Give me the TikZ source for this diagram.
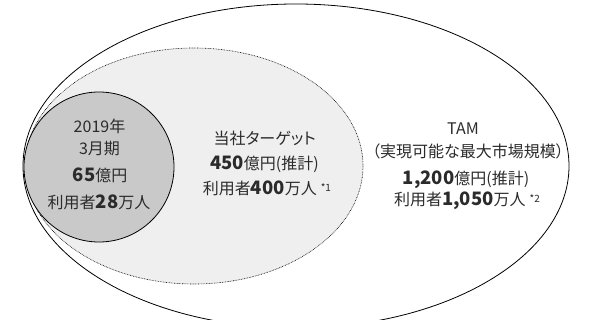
\documentclass[tikz,border=0pt]{standalone}
\usepackage{fontspec}
\setmainfont[RawFeature=+palt]{Noto Sans CJK JP}
\definecolor{inkgray}{HTML}{2B2B2B}
\definecolor{corefill}{HTML}{C9C9C9}
\definecolor{targetfill}{HTML}{EFEFEF}
\newcommand{\bignum}[1]{{\fontsize{18.5}{18.5}\selectfont\bfseries #1}}
\newcommand{\fnmark}[1]{\hspace{0.25em}\raisebox{0.2em}{\fontsize{10}{10}\selectfont #1}}
\begin{document}
\begin{tikzpicture}[x=1pt,y=-1pt,font=\fontsize{16}{16}\selectfont,text=inkgray]
      \useasboundingbox (0,0) rectangle (600,320);
      \begin{scope}
        \clip (0,0) rectangle (600,320);
        \draw[line width=0.8pt] (296,166) ellipse [x radius=273, y radius=162];
      \end{scope}
      \draw[fill=targetfill, dash pattern=on 0.7pt off 0.9pt, line width=0.6pt] (194,166) ellipse [x radius=169, y radius=118];
      \draw[fill=corefill, line width=0.8pt] (99,167) circle [radius=75];
      \begin{scope}[every node/.style={anchor=base}]
        \draw
          (99.5,132.3) node (y2019){2019年}
          (99.5,154.3) node (term){3月期}
          (100,181.7) node (sales){\bignum{65}億円}
          (99,208.3) node (users){利用者\bignum{28}万人};
        \draw
          (264.7,145) node (target){当社ターゲット}
          (264.4,170) node (tsales){\bignum{450}億円(推計)}
          (267,195) node (tusers){利用者\bignum{400}万人\fnmark{*1}};
        \draw
          (463,135) node (tam){TAM}
          (468,158) node (tamdef){（実現可能な最大市場規模）}
          (466,185) node (tamsales){\bignum{1,200}億円(推計)}
          (467,205.5) node (tamusers){利用者\bignum{1,050}万人\fnmark{*2}};
      \end{scope}
    \end{tikzpicture}
\end{document}
